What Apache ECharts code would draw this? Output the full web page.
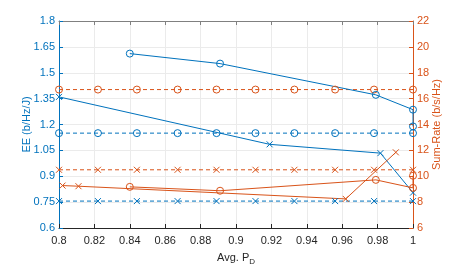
<!DOCTYPE html>
<html><head><meta charset="utf-8">
<script src="https://cdn.jsdelivr.net/npm/echarts@6/dist/echarts.min.js"></script>
<style>html,body{margin:0;padding:0;background:#fff}#c{width:457px;height:271px}</style>
</head><body><div id="c"></div>
<script>
// Data
const pdGrid = [0.8, 0.822, 0.844, 0.867, 0.889, 0.911, 0.933, 0.956, 0.978, 1.0];
const eeBaseO = [1.15, 1.15, 1.15, 1.15, 1.15, 1.15, 1.15, 1.15, 1.15, 1.15];
const eeBaseX = [0.756, 0.756, 0.756, 0.756, 0.756, 0.756, 0.756, 0.756, 0.756, 0.756];
const srBaseO = [16.7, 16.7, 16.7, 16.7, 16.7, 16.7, 16.7, 16.7, 16.7, 16.7];
const srBaseX = [10.5, 10.5, 10.5, 10.5, 10.5, 10.5, 10.5, 10.5, 10.5, 10.5];
const eeO_x = [0.84, 0.891, 0.979, 1.0, 1.0];
const eeO_y = [1.611, 1.553, 1.372, 1.286, 1.189];
const eeX_x = [0.8, 0.919, 0.9816, 1.0];
const eeX_y = [1.36, 1.085, 1.034, 0.805];
const srO_x = [0.84, 0.891, 0.979, 1.0, 1.0];
const srO_y = [9.18, 8.88, 9.72, 9.1, 10.04];
const srX_x = [0.802, 0.811, 0.962, 0.9903];
const srX_y = [9.28, 9.23, 8.25, 11.85];
const xTicks = [0.8, 0.82, 0.84, 0.86, 0.88, 0.9, 0.92, 0.94, 0.96, 0.98, 1];

const BLUE = '#0072BD', ORANGE = '#D95319';
const FONT = 'Liberation Sans';
const XSYM = 'path://M0,0L10,10M10,0L0,10';
const zip = (a, b) => a.map((v, i) => [v, b[i]]);

function line(name, xs, ys, yIdx, color, sym, dashed) {
  return {
    name, type: 'line', yAxisIndex: yIdx, data: zip(xs, ys),
    symbol: sym === 'o' ? 'circle' : XSYM,
    symbolSize: sym === 'o' ? 7 : 6,
    showSymbol: true, animation: false,
    lineStyle: { color, width: 1, type: dashed ? [4, 3] : 'solid' },
    itemStyle: { color: 'none', borderColor: color, borderWidth: 1 },
    emphasis: { disabled: true }, z: 3
  };
}

const chart = echarts.init(document.getElementById('c'), null, { renderer: 'canvas' });
chart.setOption({
  backgroundColor: '#fff',
  textStyle: { fontFamily: FONT },
  grid: { left: 59, right: 44, top: 21, bottom: 32 },
  xAxis: [{
    type: 'value', min: 0.8, max: 1, interval: 0.02, position: 'bottom',
    name: 'Avg. P{sub|D}', nameLocation: 'middle', nameGap: 21, nameMoveOverlap: false,
    nameTextStyle: { color: '#262626', fontSize: 11, fontFamily: FONT, verticalAlign: 'top',
      rich: { sub: { fontSize: 8, color: '#262626', padding: [9, 0, 0, 0], fontFamily: FONT } } },
    axisLine: { lineStyle: { color: '#262626', width: 1 } },
    axisTick: { inside: true, length: 4, lineStyle: { color: '#262626' } },
    axisLabel: { color: '#262626', fontSize: 11, margin: 7, fontFamily: FONT,
      formatter: v => String(+v.toFixed(2)) },
    splitLine: { show: true, lineStyle: { color: '#ebebeb', width: 1 } }
  }, {
    type: 'value', min: 0.8, max: 1, interval: 0.02, position: 'top',
    axisLine: { show: true, lineStyle: { color: '#808080', width: 1 } },
    axisTick: { inside: true, length: 4, lineStyle: { color: '#808080' } },
    axisLabel: { show: false }, splitLine: { show: false }
  }],
  yAxis: [{
    type: 'value', min: 0.6, max: 1.8, interval: 0.15, position: 'left',
    name: 'EE (b/Hz/J)', nameLocation: 'middle', nameGap: 27, nameMoveOverlap: false,
    nameTextStyle: { color: BLUE, fontSize: 11, fontFamily: FONT },
    axisLine: { show: true, lineStyle: { color: BLUE, width: 1 } },
    axisTick: { show: true, inside: true, length: 4, lineStyle: { color: BLUE } },
    axisLabel: { color: BLUE, fontSize: 11, margin: 4, fontFamily: FONT,
      formatter: v => String(+v.toFixed(2)) },
    splitLine: { show: true, lineStyle: { color: '#ebebeb', width: 1 } }
  }, {
    type: 'value', min: 6, max: 22, interval: 2, position: 'right',
    name: 'Sum-Rate (b/s/Hz)', nameLocation: 'middle', nameGap: 18, nameMoveOverlap: false,
    nameTextStyle: { color: ORANGE, fontSize: 11, fontFamily: FONT },
    axisLine: { show: true, lineStyle: { color: ORANGE, width: 1 } },
    axisTick: { show: true, inside: true, length: 4, lineStyle: { color: ORANGE } },
    axisLabel: { color: ORANGE, fontSize: 11, margin: 4, fontFamily: FONT },
    splitLine: { show: false }
  }],
  series: [
    line('EE base o', pdGrid, eeBaseO, 0, BLUE, 'o', true),
    line('EE base x', pdGrid, eeBaseX, 0, BLUE, 'x', true),
    line('SR base o', pdGrid, srBaseO, 1, ORANGE, 'o', true),
    line('SR base x', pdGrid, srBaseX, 1, ORANGE, 'x', true),
    line('EE o', eeO_x, eeO_y, 0, BLUE, 'o', false),
    line('EE x', eeX_x, eeX_y, 0, BLUE, 'x', false),
    line('SR o', srO_x, srO_y, 1, ORANGE, 'o', false),
    line('SR x', srX_x, srX_y, 1, ORANGE, 'x', false)
  ]
});
</script></body></html>
